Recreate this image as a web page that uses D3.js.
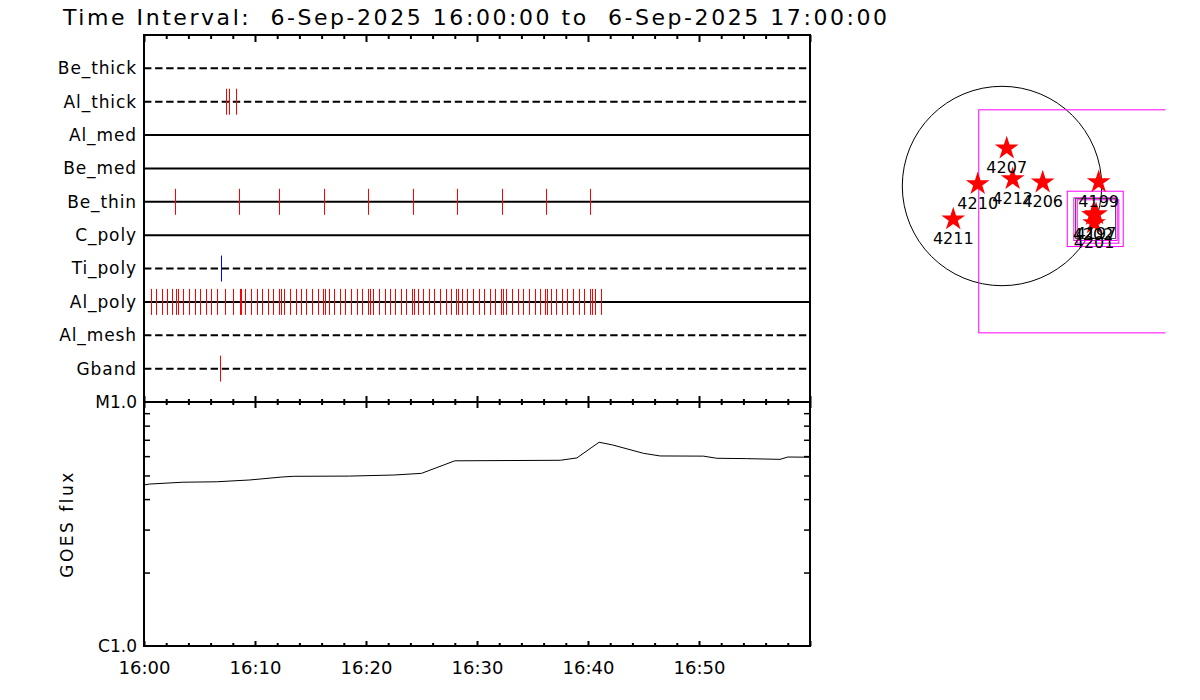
<!DOCTYPE html>
<html>
<head>
<meta charset="utf-8">
<script src="https://cdn.jsdelivr.net/npm/d3@7"></script>
<style>
  body { margin: 0; background: #fff; }
  svg { display: block; }
  text { font-family: "DejaVu Sans", sans-serif; fill: #000; }
</style>
</head>
<body>
<svg id="chart" width="1200" height="700"></svg>
<script>
// detector channels, top to bottom
const channels = ["Be_thick", "Al_thick", "Al_med", "Be_med", "Be_thin", "C_poly", "Ti_poly", "Al_poly", "Al_mesh", "Gband"];
const dashedChannels = ["Be_thick", "Al_thick", "Ti_poly", "Al_mesh", "Gband"];

// image times, minutes after 16:00
const alThickTimes = [7.41, 7.68, 8.26];
const beThinTimes = [2.82, 8.59, 12.19, 16.24, 20.21, 24.26, 28.23, 32.28, 36.24, 40.21];
const tiPolyTimes = [6.96];
const gbandTimes = [6.87];
const alPolyTimes = [0.00, 0.60, 1.11, 1.65, 2.10, 2.55, 2.91, 3.09, 3.54, 4.08, 4.62, 5.07, 5.61, 6.06, 6.60,
  7.32, 8.05, 8.68, 8.77, 9.13, 9.67, 10.21, 10.66, 11.20, 11.65, 12.19, 12.37, 12.64, 13.18, 13.72, 14.17,
  14.62, 15.16, 15.70, 16.15, 16.33, 16.69, 17.14, 17.68, 18.14, 18.68, 19.22, 19.67, 20.21, 20.39, 20.66,
  21.20, 21.74, 22.19, 22.64, 23.18, 23.63, 24.17, 24.35, 24.71, 25.16, 25.70, 26.15, 26.69, 27.23, 27.68,
  28.14, 28.32, 28.68, 29.13, 29.67, 30.21, 30.66, 31.20, 31.65, 32.19, 32.37, 32.64, 33.18, 33.72, 34.17,
  34.71, 35.23, 35.70, 36.15, 36.33, 36.69, 37.14, 37.68, 38.14, 38.68, 39.22, 39.67, 40.21, 40.39, 40.66, 41.20];

// GOES flux (W/m^2), minutes after 16:00
const goesTimes = [0, 0.5, 3.5, 6.5, 9.5, 12.5, 13.5, 18.5, 22.5, 25, 28, 37.5, 39, 41, 42.2, 45, 46.5, 50.4, 51.6, 54.3, 57.3, 58, 60];
const goesFlux = [4.57e-6, 4.61e-6, 4.69e-6, 4.71e-6, 4.79e-6, 4.93e-6, 4.96e-6, 4.97e-6, 5.02e-6, 5.10e-6, 5.74e-6, 5.77e-6,
  5.90e-6, 6.84e-6, 6.67e-6, 6.16e-6, 6.01e-6, 6.00e-6, 5.88e-6, 5.86e-6, 5.82e-6, 5.95e-6, 5.94e-6];
const fluxLabels = ["C1.0", "M1.0"];
const fluxLevels = [1e-6, 1e-5];

// solar map (arcsec)
const solarRadius = 953;
const regionNums = ["4207", "4210", "4212", "4206", "4211", "4199", "4197", "4202", "4201"];
const regionX = [45, -232, 102, 389, -466, 924, 899, 870, 880];
const regionY = [360, 19, 67, 35, -318, 38, -268, -277, -354];
const fovX0 = [-227, 619, 682, 714];
const fovX1 = [1906, 1154, 1096, 1112];
const fovY0 = [-1399, -574, -516, -542];
const fovY1 = [733, -45, -108, -127];
const boxX0 = [698], boxX1 = [1080], boxY0 = [-497], boxY1 = [-115];

const svg = d3.select("#chart");
svg.append("rect").attr("width", 1200).attr("height", 700).attr("fill", "#fff");

const t0 = new Date(Date.UTC(2025, 8, 6, 16, 0, 0));
const t1 = new Date(Date.UTC(2025, 8, 6, 17, 0, 0));
const toDate = m => new Date(t0.getTime() + m * 60000);

const pLeft = 144, pRight = 810, pTop = 35, pMid = 402, pBottom = 646;
const x = d3.scaleUtc().domain([t0, t1]).range([pLeft, pRight]);
const y = d3.scalePoint().domain(channels).range([pTop, pMid]).padding(1);
const yG = d3.scaleLog().domain([1e-6, 1e-5]).range([pBottom, pMid]);

// title
svg.append("text")
  .attr("x", 63).attr("y", 25)
  .attr("font-size", 22)
  .attr("textLength", 824).attr("lengthAdjust", "spacing")
  .style("white-space", "pre")
  .text("Time Interval:  6-Sep-2025 16:00:00 to  6-Sep-2025 17:00:00");

// channel lines
svg.append("g").selectAll("line")
  .data(channels)
  .join("line")
    .attr("x1", pLeft).attr("x2", pRight)
    .attr("y1", d => y(d)).attr("y2", d => y(d))
    .attr("stroke", "#000").attr("stroke-width", 2)
    .attr("stroke-dasharray", d => dashedChannels.includes(d) ? "7.4,3.7" : null);

// event ticks
const events = [
  { ch: "Al_thick", times: alThickTimes, color: "#ff0000" },
  { ch: "Be_thin", times: beThinTimes, color: "#ff0000" },
  { ch: "Ti_poly", times: tiPolyTimes, color: "#0000ff" },
  { ch: "Al_poly", times: alPolyTimes, color: "#ff0000" },
  { ch: "Gband", times: gbandTimes, color: "#ff0000" }
];
events.forEach(ev => {
  svg.append("g").selectAll("line")
    .data(ev.times)
    .join("line")
      .attr("x1", d => Math.round(x(toDate(d))) + 0.5).attr("x2", d => Math.round(x(toDate(d))) + 0.5)
      .attr("y1", y(ev.ch) - 13).attr("y2", y(ev.ch) + 13)
      .attr("stroke", ev.color).attr("stroke-width", 1);
});

// channel labels
svg.append("g")
  .attr("transform", `translate(${pLeft},0)`)
  .call(d3.axisLeft(y).tickSize(0).tickPadding(7))
  .call(g => g.select(".domain").remove())
  .call(g => g.selectAll("text").attr("font-size", 17).attr("letter-spacing", 0.9)
    .attr("font-family", "DejaVu Sans").attr("fill", "#000"));

// GOES curve
svg.append("path")
  .datum(goesTimes.map((t, i) => [t, goesFlux[i]]))
  .attr("fill", "none").attr("stroke", "#000").attr("stroke-width", 1)
  .attr("d", d3.line().x(d => x(toDate(d[0]))).y(d => yG(d[1])));

// frame
svg.append("path")
  .attr("d", `M${pLeft},${pTop}H${pRight}V${pBottom}H${pLeft}Z M${pLeft},${pMid}H${pRight}`)
  .attr("fill", "none").attr("stroke", "#000").attr("stroke-width", 2);

// time ticks
const majors = x.ticks(d3.utcMinute.every(10));
const minors = x.ticks(d3.utcMinute.every(2)).filter(d => d.getUTCMinutes() % 10 !== 0);
function timeTicks(axisFn, yPos, majorLen, minorLen) {
  [[majors, majorLen], [minors, minorLen]].forEach(([vals, len]) => {
    svg.append("g")
      .attr("transform", `translate(0,${yPos})`)
      .call(axisFn(x).tickValues(vals).tickSize(len).tickFormat(""))
      .call(g => g.select(".domain").remove())
      .call(g => g.selectAll("line").attr("stroke-width", 2));
  });
}
timeTicks(d3.axisBottom, pTop, 7, 4);
timeTicks(d3.axisTop, pMid, 6, 3);
timeTicks(d3.axisBottom, pMid, 6, 3);
timeTicks(d3.axisTop, pBottom, 5, 3);

svg.append("g")
  .attr("transform", `translate(0,${pBottom})`)
  .call(d3.axisBottom(x).tickValues(majors.filter(d => d < t1)).tickSize(0).tickPadding(15)
    .tickFormat(d3.utcFormat("%H:%M")))
  .call(g => g.select(".domain").remove())
  .call(g => g.selectAll("text").attr("font-size", 18).attr("font-family", "DejaVu Sans").attr("fill", "#000"));

// flux axis
const fluxMinor = d3.range(2, 10).map(k => k * 1e-6);
svg.append("g")
  .attr("transform", `translate(${pLeft},0)`)
  .call(d3.axisRight(yG).tickValues(fluxMinor).tickSize(6).tickFormat(""))
  .call(g => g.select(".domain").remove())
  .call(g => g.selectAll("line").attr("stroke-width", 1.5));
svg.append("g")
  .attr("transform", `translate(${pRight},0)`)
  .call(d3.axisLeft(yG).tickValues(fluxMinor).tickSize(6).tickFormat(""))
  .call(g => g.select(".domain").remove())
  .call(g => g.selectAll("line").attr("stroke-width", 1.5));
svg.append("g")
  .attr("transform", `translate(${pLeft},0)`)
  .call(d3.axisLeft(yG).tickValues(fluxLevels).tickSize(0).tickPadding(7)
    .tickFormat((d, i) => fluxLabels[i]))
  .call(g => g.select(".domain").remove())
  .call(g => g.selectAll("text").attr("font-size", 17).attr("font-family", "DejaVu Sans").attr("fill", "#000"));

svg.append("text")
  .attr("transform", `translate(73,${(pMid + pBottom) / 2}) rotate(-90)`)
  .attr("text-anchor", "middle")
  .attr("font-size", 17).attr("letter-spacing", 2.5)
  .text("GOES flux");

// solar map
const pxPerArcsec = 99.7 / solarRadius;
const cx = 1002, cy = 186;
const mx = d3.scaleLinear().domain([0, 1]).range([cx, cx + pxPerArcsec]);
const my = d3.scaleLinear().domain([0, 1]).range([cy, cy - pxPerArcsec]);

svg.append("clipPath").attr("id", "mapclip")
  .append("rect").attr("x", 880).attr("y", 30).attr("width", 285.5).attr("height", 330);
const map = svg.append("g").attr("clip-path", "url(#mapclip)");

map.append("circle")
  .attr("cx", mx(0)).attr("cy", my(0)).attr("r", mx(solarRadius) - mx(0))
  .attr("fill", "none").attr("stroke", "#000").attr("stroke-width", 1);

map.append("g").selectAll("rect")
  .data(fovX0.map((v, i) => i))
  .join("rect")
    .attr("x", i => mx(fovX0[i]) + 0.5).attr("y", i => my(fovY1[i]) + 0.5)
    .attr("width", i => mx(fovX1[i]) - mx(fovX0[i]))
    .attr("height", i => my(fovY0[i]) - my(fovY1[i]))
    .attr("fill", "none").attr("stroke", "#ff00ff").attr("stroke-width", 1);

map.append("g").selectAll("rect")
  .data(boxX0.map((v, i) => i))
  .join("rect")
    .attr("x", i => mx(boxX0[i]) + 0.5).attr("y", i => my(boxY1[i]) + 0.5)
    .attr("width", i => mx(boxX1[i]) - mx(boxX0[i]))
    .attr("height", i => my(boxY0[i]) - my(boxY1[i]))
    .attr("fill", "none").attr("stroke", "#555").attr("stroke-width", 1);

const star = d3.symbol(d3.symbolStar, 175);
map.append("g").selectAll("path")
  .data(regionNums.map((v, i) => i))
  .join("path")
    .attr("transform", i => `translate(${mx(regionX[i])},${my(regionY[i])})`)
    .attr("d", star)
    .attr("fill", "#ff0000");

map.append("g").selectAll("text")
  .data(regionNums.map((v, i) => i))
  .join("text")
    .attr("x", i => mx(regionX[i]))
    .attr("y", i => my(regionY[i]) + 25)
    .attr("text-anchor", "middle")
    .attr("font-size", 16)
    .text(i => regionNums[i]);
</script>
</body>
</html>
